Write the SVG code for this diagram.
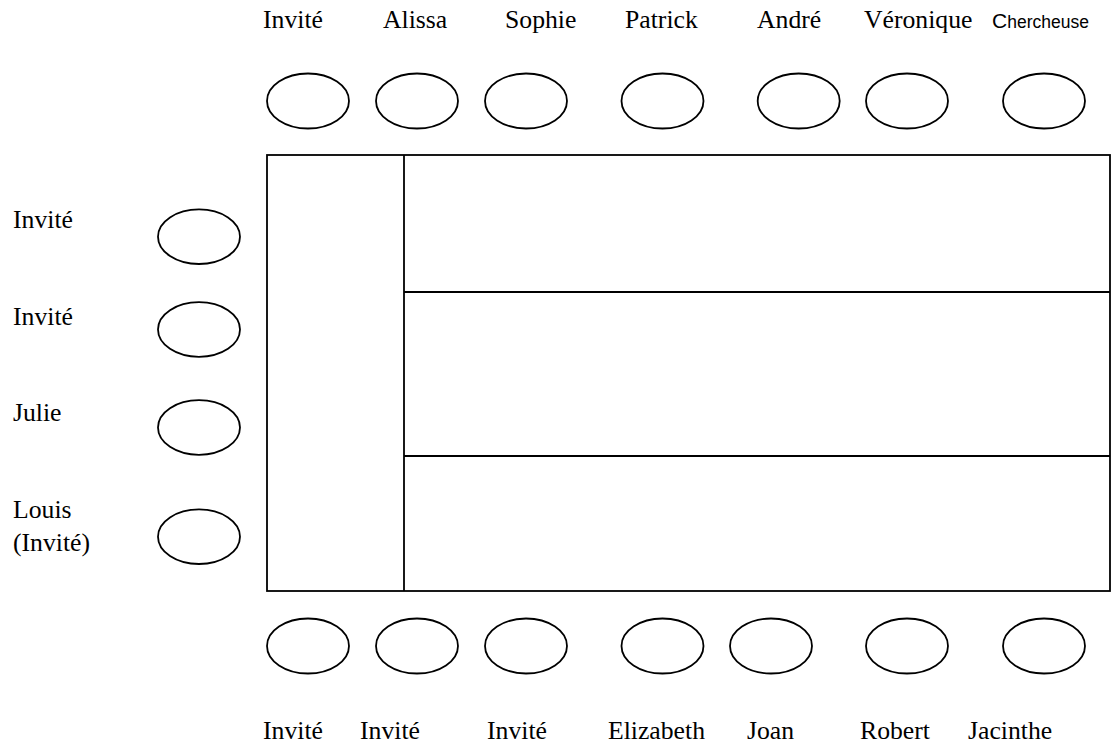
<svg xmlns="http://www.w3.org/2000/svg" width="1115" height="744" viewBox="0 0 1115 744">
<style>
.seat{fill:#fff;stroke:#000;stroke-width:1.8}
.tbl{fill:none;stroke:#000;stroke-width:1.8}
.lbl{font-family:"Liberation Serif","Times New Roman",serif;font-size:25.7px;fill:#000}
.sans{font-family:"Liberation Sans",Arial,sans-serif;fill:#000}
</style>
<rect width="1115" height="744" fill="#fff"/>
<g id="table">
<rect class="tbl" x="267" y="155" width="843" height="436"/>
<line class="tbl" x1="404" y1="155" x2="404" y2="591"/>
<line class="tbl" x1="404" y1="292" x2="1110" y2="292"/>
<line class="tbl" x1="404" y1="456" x2="1110" y2="456"/>
</g>
<g id="connectors"></g>
<g id="top-seats">
<g id="t1"><ellipse class="seat" cx="308" cy="101" rx="41" ry="27.5"/><text class="lbl" x="263" y="28">Invité</text></g>
<g id="t2"><ellipse class="seat" cx="417" cy="101" rx="41" ry="27.5"/><text class="lbl" x="383" y="28">Alissa</text></g>
<g id="t3"><ellipse class="seat" cx="526" cy="101" rx="41" ry="27.5"/><text class="lbl" x="505" y="28">Sophie</text></g>
<g id="t4"><ellipse class="seat" cx="662.5" cy="101" rx="41" ry="27.5"/><text class="lbl" x="625" y="28">Patrick</text></g>
<g id="t5"><ellipse class="seat" cx="798.7" cy="101" rx="41" ry="27.5"/><text class="lbl" x="757" y="28">André</text></g>
<g id="t6"><ellipse class="seat" cx="907" cy="101" rx="41" ry="27.5"/><text class="lbl" x="864" y="28">Véronique</text></g>
<g id="t7"><ellipse class="seat" cx="1044" cy="101" rx="41" ry="27.5"/><text class="sans" x="992" y="28"><tspan font-size="21">C</tspan><tspan font-size="17.5">hercheuse</tspan></text></g>
</g>
<g id="left-seats">
<g id="l1"><ellipse class="seat" cx="199" cy="236.7" rx="41" ry="27.3"/><text class="lbl" x="13" y="228">Invité</text></g>
<g id="l2"><ellipse class="seat" cx="199" cy="329.5" rx="41" ry="27.3"/><text class="lbl" x="13" y="325">Invité</text></g>
<g id="l3"><ellipse class="seat" cx="199" cy="427.5" rx="41" ry="27.3"/><text class="lbl" x="13" y="421">Julie</text></g>
<g id="l4"><ellipse class="seat" cx="199" cy="536.7" rx="41" ry="27.3"/><text class="lbl" x="13" y="518">Louis</text><text class="lbl" x="13" y="551">(Invité)</text></g>
</g>
<g id="bottom-seats">
<g id="b1"><ellipse class="seat" cx="308" cy="646" rx="41" ry="27.5"/><text class="lbl" x="263" y="739">Invité</text></g>
<g id="b2"><ellipse class="seat" cx="417" cy="646" rx="41" ry="27.5"/><text class="lbl" x="360" y="739">Invité</text></g>
<g id="b3"><ellipse class="seat" cx="526" cy="646" rx="41" ry="27.5"/><text class="lbl" x="487" y="739">Invité</text></g>
<g id="b4"><ellipse class="seat" cx="662.5" cy="646" rx="41" ry="27.5"/><text class="lbl" x="608" y="739">Elizabeth</text></g>
<g id="b5"><ellipse class="seat" cx="771" cy="646" rx="41" ry="27.5"/><text class="lbl" x="747" y="739">Joan</text></g>
<g id="b6"><ellipse class="seat" cx="907" cy="646" rx="41" ry="27.5"/><text class="lbl" x="860" y="739">Robert</text></g>
<g id="b7"><ellipse class="seat" cx="1044" cy="646" rx="41" ry="27.5"/><text class="lbl" x="968" y="739">Jacinthe</text></g>
</g>
</svg>
